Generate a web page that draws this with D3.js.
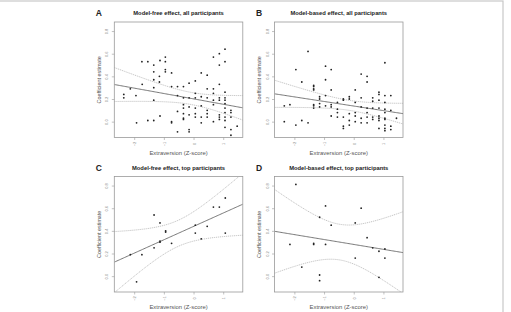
<!DOCTYPE html>
<html>
<head>
<meta charset="utf-8">
<script src="https://cdn.jsdelivr.net/npm/d3@7"></script>
<style>
  body { margin: 0; background: #fff; }
  svg { display: block; font-family: "Liberation Sans", Arial, sans-serif; }
</style>
</head>
<body>
<svg id="fig"></svg>
<script>
// Figure size
const width = 511;
const height = 312;

// Axis ticks shared by every panel
const xTicks = [-2, -1, 0, 1];
const yTicks = [0.0, 0.2, 0.4, 0.6, 0.8];

// A: model-free effect, all participants
const aX = [-2.35, -2.35, -2.13, -1.94, -1.92, -1.74, -1.73, -1.54, -1.54, -1.34, -1.34, -1.34, -1.34, -1.34, -1.34,
  -1.15, -1.15, -1.13, -1.13, -0.95, -0.95, -0.95, -0.95, -0.74, -0.74, -0.74, -0.74,
  -0.54, -0.54, -0.54, -0.54, -0.34, -0.34, -0.34, -0.34, -0.34, -0.34, -0.34,
  -0.15, -0.15, -0.15, -0.15, -0.15, -0.15, 0.06, 0.06, 0.06, 0.06, 0.06, 0.06,
  0.26, 0.26, 0.26, 0.26, 0.26, 0.46, 0.46, 0.46, 0.46, 0.46, 0.46,
  0.67, 0.67, 0.67, 0.67, 0.67, 0.67, 0.87, 0.87, 0.87, 0.87, 0.87, 0.87, 0.87, 0.87,
  1.06, 1.06, 1.06, 1.06, 1.06, 1.06, 1.06, 1.06, 1.06, 1.06, 1.06,
  1.26, 1.26, 1.26, 1.26, 1.26, 1.47];
const aY = [0.24, 0.21, 0.29, 0.23, -0.01, 0.53, 0.33, 0.53, 0.01, 0.50, 0.44, 0.37, 0.30, 0.19, 0.01,
  0.40, 0.35, 0.54, 0.05, 0.57, 0.53, 0.46, 0.44, 0.43, 0.31, 0.00, -0.01,
  0.31, 0.23, 0.09, -0.09, 0.31, 0.21, 0.15, 0.12, 0.07, 0.03, 0.02,
  0.34, 0.21, 0.13, 0.06, -0.07, -0.09, 0.36, 0.25, 0.21, 0.12, 0.07, 0.04,
  0.43, 0.22, 0.14, 0.04, -0.01, 0.41, 0.29, 0.21, 0.10, 0.07, 0.04,
  0.57, 0.29, 0.25, 0.19, 0.15, 0.00, 0.60, 0.50, 0.33, 0.21, 0.19, 0.06, 0.04, 0.02,
  0.64, 0.53, 0.26, 0.21, 0.19, 0.16, 0.12, 0.08, 0.04, 0.01, -0.05,
  0.10, 0.08, 0.04, -0.07, -0.12, -0.04];

// B: model-based effect, all participants
const bX = [-2.34, -2.34, -2.15, -1.95, -1.95, -1.75, -1.75, -1.54, -1.54,
  -1.35, -1.35, -1.35, -1.35, -1.35, -1.35, -1.35, -1.15, -1.15, -1.15, -1.15,
  -0.95, -0.95, -0.95, -0.95, -0.76, -0.76, -0.76, -0.76, -0.76,
  -0.55, -0.55, -0.55, -0.55, -0.35, -0.35, -0.35, -0.35, -0.35,
  -0.15, -0.15, -0.15, -0.15, -0.15, 0.05, 0.05, 0.05, 0.05, 0.05,
  0.25, 0.25, 0.25, 0.25, 0.25, 0.45, 0.45, 0.45, 0.45, 0.45, 0.45,
  0.64, 0.64, 0.64, 0.64, 0.64, 0.85, 0.85, 0.85, 0.85, 0.85, 0.85, 0.85, 0.85,
  1.05, 1.05, 1.05, 1.05, 1.05, 1.05, 1.05, 1.05, 1.05, 1.05,
  1.25, 1.25, 1.25, 1.25, 1.44];
const bY = [0.14, 0.00, 0.15, 0.46, -0.03, 0.35, 0.01, 0.62, -0.01,
  0.32, 0.31, 0.29, 0.28, 0.15, 0.14, 0.12, 0.20, 0.16, 0.13, 0.22,
  0.49, 0.37, 0.23, 0.14, 0.46, 0.28, 0.15, 0.13, 0.05,
  0.17, 0.11, 0.08, 0.04, 0.20, 0.19, 0.04, -0.04, -0.06,
  0.22, 0.20, 0.07, 0.01, -0.03, 0.28, 0.17, 0.08, 0.05, 0.00,
  0.42, 0.21, 0.13, 0.03, -0.01, 0.40, 0.35, 0.12, 0.08, 0.04, -0.01,
  0.21, 0.18, 0.12, 0.04, 0.02, 0.26, 0.24, 0.19, 0.12, 0.05, 0.03, 0.01, -0.06,
  0.52, 0.23, 0.17, 0.11, 0.08, 0.03, 0.02, -0.03, -0.06, -0.08,
  0.23, 0.10, -0.04, -0.07, 0.03];

// C: model-free effect, top participants
const cX = [-2.13, -1.92, -1.74, -1.33, -1.33, -1.13, -1.13, -1.13, -0.94, -0.94,
  -0.74, 0.06, 0.06, 0.26, 0.46, 0.67, 0.87, 1.07, 1.07];
const cY = [0.19, -0.05, 0.19, 0.54, 0.25, 0.47, 0.31, 0.30, 0.40, 0.39,
  0.29, 0.45, 0.38, 0.33, 0.44, 0.61, 0.61, 0.69, 0.38];

// D: model-based effect, top participants
const dX = [-2.15, -1.95, -1.75, -1.35, -1.35, -1.15, -1.15, -1.15, -0.95, -0.95,
  -0.76, 0.05, 0.05, 0.25, 0.45, 0.64, 0.85, 0.85, 1.05, 1.05];
const dY = [0.28, 0.81, 0.08, 0.29, 0.28, 0.52, 0.01, -0.04, 0.62, 0.28,
  0.45, 0.47, 0.16, 0.60, 0.34, 0.25, 0.22, -0.01, 0.24, 0.16];

// Confidence band half-width at the left edge of each panel
const bandLeft = [0.15, 0.12, 0.27, 0.37];

const letters = ['A', 'B', 'C', 'D'];
const titles = [
  'Model-free effect, all participants',
  'Model-based effect, all participants',
  'Model-free effect, top participants',
  'Model-based effect, top participants'
];
const xsList = [aX, bX, cX, dX];
const ysList = [aY, bY, cY, dY];

// Panel boxes
const boxW = 128.5;
const boxH = 115.5;
const boxLeft = [114.3, 274.5];
const boxTop = [22, 176.5];
const xMin = -2.67, xMax = 1.66;

const svg = d3.select('#fig')
  .attr('width', width)
  .attr('height', height);

// Outer frame of the figure page
svg.append('rect')
  .attr('x', -2).attr('y', 1)
  .attr('width', 505).attr('height', height + 5)
  .attr('fill', 'none')
  .attr('stroke', '#c8c8c8')
  .attr('stroke-width', 1.2);

// Least-squares fit; band shape follows the usual CI form
function fit(xs, ys) {
  const n = xs.length;
  const mx = d3.mean(xs), my = d3.mean(ys);
  let sxx = 0, sxy = 0;
  xs.forEach((x, i) => { sxx += (x - mx) ** 2; sxy += (x - mx) * (ys[i] - my); });
  const b = sxy / sxx;
  const a = my - b * mx;
  const pred = x => a + b * x;
  const shape = x => Math.sqrt(1 / n + (x - mx) ** 2 / sxx);
  return { pred, shape };
}

letters.forEach((letter, i) => {
  const col = i % 2, row = Math.floor(i / 2);
  const x0 = boxLeft[col], y0 = boxTop[row];

  const x = d3.scaleLinear().domain([xMin, xMax]).range([0, boxW]);
  const y = d3.scaleLinear().domain([-0.14, 0.88]).range([boxH, 0]);

  const g = svg.append('g').attr('transform', `translate(${x0},${y0})`);

  g.append('clipPath').attr('id', 'clip' + i)
    .append('rect').attr('width', boxW).attr('height', boxH);

  // Panel letter and title
  g.append('text')
    .attr('x', -15.5).attr('y', -9)
    .attr('text-anchor', 'middle')
    .attr('dominant-baseline', 'central')
    .attr('font-size', 8.5).attr('font-weight', 'bold')
    .attr('fill', '#222')
    .text(letter);

  g.append('text')
    .attr('x', boxW / 2).attr('y', -9)
    .attr('text-anchor', 'middle')
    .attr('dominant-baseline', 'central')
    .attr('font-size', 5.8).attr('font-weight', 'bold')
    .attr('fill', '#222')
    .text(titles[i]);

  // Axes
  const yAxis = g.append('g')
    .call(d3.axisLeft(y).tickValues(yTicks).tickSize(2.5).tickFormat(d3.format('.1f')));
  const xAxis = g.append('g')
    .attr('transform', `translate(0,${boxH})`)
    .call(d3.axisBottom(x).tickValues(xTicks).tickSize(2.5).tickFormat(d3.format('d')));

  [yAxis, xAxis].forEach(ax => {
    ax.select('.domain').remove();
    ax.selectAll('line').attr('stroke', '#999').attr('stroke-width', 0.6);
    ax.selectAll('text')
      .attr('font-size', 4).attr('fill', '#888')
      .attr('font-family', '"Liberation Sans", Arial, sans-serif');
  });
  yAxis.selectAll('text')
    .attr('x', null).attr('dy', null)
    .attr('text-anchor', 'middle')
    .attr('dominant-baseline', 'central')
    .attr('transform', 'translate(-7.5,0) rotate(-90)');
  xAxis.selectAll('text')
    .attr('y', null).attr('dy', null)
    .attr('text-anchor', 'middle')
    .attr('dominant-baseline', 'central')
    .attr('transform', 'translate(0,6.5) rotate(-90)');

  // Axis titles
  g.append('text')
    .attr('x', boxW / 2).attr('y', boxH + 15)
    .attr('text-anchor', 'middle')
    .attr('dominant-baseline', 'central')
    .attr('font-size', 5.9).attr('fill', '#555')
    .text('Extraversion (Z-score)');

  g.append('text')
    .attr('transform', `translate(-15.5,${boxH / 2}) rotate(-90)`)
    .attr('text-anchor', 'middle')
    .attr('dominant-baseline', 'central')
    .attr('font-size', 5.4).attr('fill', '#555')
    .text('Coefficient estimate');

  // Fit and confidence band
  const xs = xsList[i], ys = ysList[i];
  const f = fit(xs, ys);
  const k = bandLeft[i] / f.shape(xMin);
  const grid = d3.range(0, 101).map(j => xMin + j * (xMax - xMin) / 100);
  const plot = g.append('g').attr('clip-path', `url(#clip${i})`);

  const line = d3.line().x(d => x(d[0])).y(d => y(d[1]));
  [1, -1].forEach(sign => {
    plot.append('path')
      .datum(grid.map(v => [v, f.pred(v) + sign * k * f.shape(v)]))
      .attr('d', line).attr('fill', 'none')
      .attr('stroke', '#aaa').attr('stroke-width', 0.7).attr('stroke-dasharray', '1.2,0.8');
  });
  plot.append('path')
    .datum(grid.map(v => [v, f.pred(v)]))
    .attr('d', line).attr('fill', 'none')
    .attr('stroke', '#555').attr('stroke-width', 0.8);

  // Points
  g.append('g').selectAll('circle')
    .data(xs.map((v, j) => [v, ys[j]]))
    .enter().append('circle')
      .attr('cx', d => x(d[0]))
      .attr('cy', d => y(d[1]))
      .attr('r', 0.9)
      .attr('fill', '#222');

  // Box
  g.append('rect')
    .attr('width', boxW).attr('height', boxH)
    .attr('fill', 'none')
    .attr('stroke', '#999').attr('stroke-width', 0.8);
});
</script>
</body>
</html>
